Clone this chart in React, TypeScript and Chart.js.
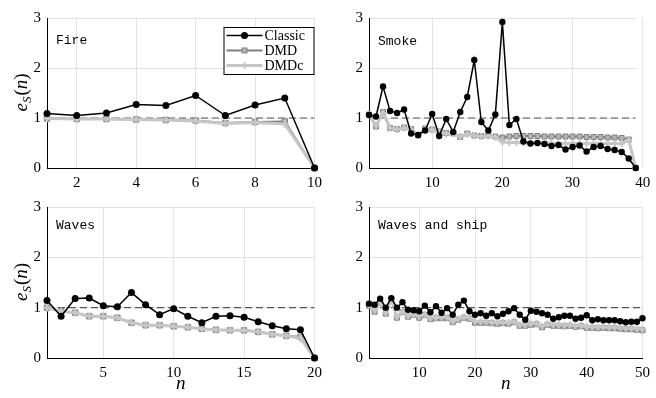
import React, { useEffect, useRef } from 'react';
import { Chart, registerables } from 'chart.js';

Chart.register(...registerables);

// ---------------- data ----------------
const seriesNames = ['Classic', 'DMD', 'DMDc'];
const referenceLevel = 1;
const yTicks = [0, 1, 2, 3];

const fireClassic = [1.09, 1.05, 1.1, 1.27, 1.25, 1.45, 1.05, 1.26, 1.4, 0];
const fireDMD = [0.99, 0.98, 0.98, 0.97, 0.96, 0.95, 0.9, 0.92, 0.93, 0];
const fireDMDc = [0.99, 0.98, 0.98, 0.97, 0.96, 0.94, 0.89, 0.91, 0.88, 0];
const fireTicks = [2, 4, 6, 8, 10];

const smokeClassic = [1.06, 1.03, 1.63, 1.14, 1.1, 1.17, 0.69, 0.66, 0.75, 1.08, 0.64, 0.98, 0.72, 1.12, 1.42, 2.16, 0.92, 0.75, 1.07, 2.92, 0.86, 0.98, 0.53, 0.49, 0.5, 0.48, 0.44, 0.46, 0.37, 0.42, 0.45, 0.33, 0.42, 0.44, 0.38, 0.36, 0.32, 0.19, 0];
const smokeDMD = [1.07, 0.83, 1.12, 0.8, 0.78, 0.81, 0.78, 0.65, 0.79, 0.77, 0.73, 0.7, 0.69, 0.62, 0.69, 0.65, 0.64, 0.65, 0.63, 0.61, 0.63, 0.64, 0.64, 0.64, 0.64, 0.63, 0.63, 0.63, 0.63, 0.63, 0.63, 0.62, 0.62, 0.62, 0.61, 0.61, 0.6, 0.57, 0];
const smokeDMDc = [1.07, 0.85, 1.1, 0.8, 0.77, 0.8, 0.77, 0.66, 0.77, 0.76, 0.72, 0.68, 0.69, 0.63, 0.68, 0.65, 0.63, 0.64, 0.62, 0.52, 0.51, 0.51, 0.5, 0.5, 0.5, 0.5, 0.5, 0.49, 0.49, 0.49, 0.49, 0.49, 0.49, 0.49, 0.49, 0.49, 0.49, 0.56, 0];
const smokeTicks = [10, 20, 30, 40];

const wavesClassic = [1.14, 0.83, 1.18, 1.19, 1.04, 1.02, 1.3, 1.06, 0.86, 0.98, 0.83, 0.7, 0.83, 0.84, 0.81, 0.72, 0.64, 0.58, 0.56, 0];
const wavesDMD = [1.0, 0.93, 0.9, 0.83, 0.83, 0.8, 0.7, 0.65, 0.65, 0.63, 0.61, 0.58, 0.56, 0.55, 0.55, 0.52, 0.47, 0.44, 0.42, 0];
const wavesDMDc = [1.0, 0.93, 0.9, 0.83, 0.83, 0.8, 0.7, 0.65, 0.65, 0.63, 0.61, 0.58, 0.56, 0.55, 0.55, 0.52, 0.47, 0.44, 0.39, 0];
const wavesTicks = [5, 10, 15, 20];

const shipClassic = [1.08, 1.06, 1.18, 1.0, 1.19, 1.0, 1.11, 0.96, 0.95, 0.93, 1.04, 0.91, 1.03, 0.9, 0.99, 0.86, 1.06, 1.14, 0.93, 0.86, 0.89, 0.84, 0.89, 0.83, 0.88, 0.93, 0.99, 0.86, 0.76, 0.94, 0.92, 0.89, 0.86, 0.78, 0.81, 0.84, 0.84, 0.78, 0.8, 0.85, 0.75, 0.77, 0.75, 0.75, 0.75, 0.73, 0.71, 0.72, 0.72, 0.79];
const shipDMD = [1.04, 0.92, 1.1, 0.88, 1.16, 0.8, 0.91, 0.82, 0.86, 0.8, 0.85, 0.77, 0.79, 0.79, 0.79, 0.71, 0.76, 0.8, 0.78, 0.7, 0.7, 0.7, 0.69, 0.68, 0.69, 0.68, 0.71, 0.64, 0.64, 0.66, 0.67, 0.61, 0.66, 0.64, 0.64, 0.63, 0.64, 0.62, 0.63, 0.6, 0.6, 0.59, 0.6, 0.59, 0.59, 0.58, 0.57, 0.57, 0.56, 0.55];
const shipDMDc = [1.06, 0.95, 1.12, 0.9, 1.18, 0.82, 0.93, 0.84, 0.88, 0.83, 0.87, 0.79, 0.81, 0.81, 0.81, 0.73, 0.78, 0.82, 0.8, 0.73, 0.72, 0.72, 0.71, 0.7, 0.71, 0.7, 0.73, 0.66, 0.66, 0.68, 0.69, 0.63, 0.68, 0.66, 0.66, 0.65, 0.66, 0.64, 0.65, 0.62, 0.62, 0.61, 0.62, 0.61, 0.61, 0.6, 0.59, 0.59, 0.58, 0.57];
const shipTicks = [10, 20, 30, 40, 50];

// ---------------- style ----------------
const SERIF = '"Liberation Serif", "Times New Roman", serif';
const MONO = '"Liberation Mono", "DejaVu Sans Mono", monospace';

const seriesStyle = [
  { color: '#000000', fill: '#000000', width: 1.5, point: 'circle', order: 0 },
  { color: '#7f7f7f', fill: '#b5b5b5', width: 2, point: 'rect', order: 2 },
  { color: '#c6c6c6', fill: '#c6c6c6', width: 3, point: 'cross', order: 1 },
];

const toPoints = (arr: number[]) => arr.map((v, i) => ({ x: i + 1, y: v }));

function drawMarker(ctx: CanvasRenderingContext2D, kind: string, x: number, y: number, r: number, st: any) {
  ctx.save();
  ctx.strokeStyle = st.color;
  ctx.fillStyle = st.fill;
  if (kind === 'circle') {
    ctx.beginPath();
    ctx.arc(x, y, r, 0, Math.PI * 2);
    ctx.fill();
  } else if (kind === 'rect') {
    const s = r * Math.SQRT2;
    ctx.lineWidth = 1;
    ctx.fillRect(x - s / 2, y - s / 2, s, s);
    ctx.strokeRect(x - s / 2, y - s / 2, s, s);
  } else {
    ctx.lineWidth = 2;
    ctx.beginPath();
    ctx.moveTo(x - r, y);
    ctx.lineTo(x + r, y);
    ctx.moveTo(x, y - r);
    ctx.lineTo(x, y + r);
    ctx.stroke();
  }
  ctx.restore();
}

const decorPlugin = {
  id: 'panelDecor',
  afterDraw(chart: any, _args: any, opts: any) {
    const { ctx, chartArea } = chart;
    ctx.save();
    // panel label
    ctx.font = `13px ${MONO}`;
    ctx.fillStyle = '#000';
    ctx.textAlign = 'left';
    ctx.textBaseline = 'middle';
    ctx.fillText(opts.label, chartArea.left + 9, chartArea.top + opts.labelDy);

    // y axis title e_S(n)
    if (opts.yTitle) {
      const cy = (chartArea.top + chartArea.bottom) / 2;
      ctx.save();
      ctx.translate(27, cy);
      ctx.rotate(-Math.PI / 2);
      ctx.textBaseline = 'alphabetic';
      const parts = [
        { t: 'e', f: `italic 19px ${SERIF}`, dy: 0 },
        { t: 'S', f: `italic 13px ${SERIF}`, dy: 3.5 },
        { t: '(', f: `19px ${SERIF}`, dy: 0 },
        { t: 'n', f: `italic 19px ${SERIF}`, dy: 0 },
        { t: ')', f: `19px ${SERIF}`, dy: 0 },
      ];
      let total = 0;
      const widths = parts.map((p) => {
        ctx.font = p.f;
        const w = ctx.measureText(p.t).width;
        total += w;
        return w;
      });
      let x = -total / 2;
      parts.forEach((p, i) => {
        ctx.font = p.f;
        ctx.fillText(p.t, x, p.dy);
        x += widths[i] + (i === 1 ? 1 : 0);
      });
      ctx.restore();
    }

    // x axis title n
    if (opts.xTitle) {
      ctx.font = `italic 19px ${SERIF}`;
      ctx.textAlign = 'center';
      ctx.textBaseline = 'alphabetic';
      ctx.fillText('n', (chartArea.left + chartArea.right) / 2, opts.xTitleY);
    }

    // legend
    if (opts.legend) {
      const bw = 91;
      const bh = 48;
      const bx = chartArea.right - bw;
      const by = chartArea.top + 9;
      ctx.fillStyle = '#fff';
      ctx.fillRect(bx, by, bw, bh);
      ctx.strokeStyle = '#000';
      ctx.lineWidth = 1;
      ctx.strokeRect(bx + 0.5, by + 0.5, bw - 1, bh - 1);
      const rows = [by + 8.5, by + 23.5, by + 38.5];
      seriesNames.forEach((name, i) => {
        const st = seriesStyle[i];
        const yy = rows[i];
        ctx.strokeStyle = st.color;
        ctx.lineWidth = st.width;
        ctx.beginPath();
        ctx.moveTo(bx + 3, yy);
        ctx.lineTo(bx + 39, yy);
        ctx.stroke();
        drawMarker(ctx, st.point, bx + 21, yy, 3.5, st);
        ctx.fillStyle = '#000';
        ctx.font = `14px ${SERIF}`;
        ctx.textAlign = 'left';
        ctx.textBaseline = 'middle';
        ctx.fillText(name, bx + 41, yy + 0.5);
      });
    }
    ctx.restore();
  },
};

type PanelProps = {
  label: string;
  classic: number[];
  dmd: number[];
  dmdc: number[];
  xTicks: number[];
  left: number;
  top: number;
  width: number;
  height: number;
  yScaleWidth: number;
  padTop: number;
  padRight: number;
  xScaleHeight: number;
  yTitle: boolean;
  xTitle: boolean;
  legend: boolean;
  labelDy: number;
  markerR: number;
};

function Panel(p: PanelProps) {
  const ref = useRef<HTMLCanvasElement>(null);
  useEffect(() => {
    if (!ref.current) return;
    const n = p.classic.length;
    const series = [p.classic, p.dmd, p.dmdc];
    const datasets: any[] = series.map((arr, i) => {
      const st = seriesStyle[i];
      return {
        label: seriesNames[i],
        data: toPoints(arr),
        borderColor: st.color,
        backgroundColor: st.fill,
        borderWidth: st.width,
        pointStyle: st.point,
        pointRadius: i === 0 ? p.markerR : p.markerR + 0.3,
        pointBorderColor: st.color,
        pointBackgroundColor: st.fill,
        pointBorderWidth: i === 0 ? 0 : i === 1 ? 1 : 2,
        tension: 0,
        fill: false,
        clip: false,
        order: st.order,
      };
    });
    datasets.push({
      label: 'reference',
      data: [
        { x: 1, y: referenceLevel },
        { x: n, y: referenceLevel },
      ],
      borderColor: '#555555',
      borderWidth: 1.2,
      borderDash: [7, 4],
      pointRadius: 0,
      fill: false,
      order: 5,
    });

    const chart = new Chart(ref.current, {
      type: 'line',
      data: { datasets },
      plugins: [decorPlugin as any],
      options: {
        animation: false,
        responsive: false,
        devicePixelRatio: 1,
        events: [],
        layout: { padding: { top: p.padTop, right: p.padRight, left: 0, bottom: 0 } },
        plugins: {
          legend: { display: false },
          tooltip: { enabled: false },
          panelDecor: {
            label: p.label,
            yTitle: p.yTitle,
            xTitle: p.xTitle,
            legend: p.legend,
            labelDy: p.labelDy,
            xTitleY: p.height - 9,
          },
        } as any,
        scales: {
          x: {
            type: 'linear',
            min: 1,
            max: n,
            afterBuildTicks: (scale: any) => {
              scale.ticks = p.xTicks.map((v) => ({ value: v }));
            },
            afterFit: (scale: any) => {
              scale.height = p.xScaleHeight;
            },
            grid: { color: '#e2e2e2', lineWidth: 1, drawTicks: false },
            border: { display: true, color: '#000', width: 1 },
            ticks: {
              padding: 6,
              color: '#000',
              font: { family: SERIF, size: 15 },
              maxRotation: 0,
              autoSkip: false,
            },
          },
          y: {
            type: 'linear',
            min: 0,
            max: 3,
            afterBuildTicks: (scale: any) => {
              scale.ticks = yTicks.map((v) => ({ value: v }));
            },
            afterFit: (scale: any) => {
              scale.width = p.yScaleWidth;
            },
            grid: { color: '#e2e2e2', lineWidth: 1, drawTicks: false },
            border: { display: true, color: '#000', width: 1 },
            ticks: {
              padding: 6,
              color: '#000',
              font: { family: SERIF, size: 15 },
            },
          },
        },
      } as any,
    });
    return () => chart.destroy();
  }, []);
  return (
    <canvas
      ref={ref}
      width={p.width}
      height={p.height}
      style={{ position: 'absolute', left: p.left, top: p.top, width: p.width, height: p.height }}
    />
  );
}

export default function App() {
  return (
    <div
      style={{
        position: 'fixed',
        left: 0,
        top: 0,
        width: 656,
        height: 398,
        background: '#fff',
        overflow: 'hidden',
      }}
    >
      <Panel
        label="Fire"
        classic={fireClassic}
        dmd={fireDMD}
        dmdc={fireDMDc}
        xTicks={fireTicks}
        left={0}
        top={0}
        width={328}
        height={190}
        yScaleWidth={47}
        padTop={18}
        padRight={3}
        xScaleHeight={22}
        yTitle={true}
        xTitle={false}
        legend={true}
        labelDy={23}
        markerR={3.5}
      />
      <Panel
        label="Smoke"
        classic={smokeClassic}
        dmd={smokeDMD}
        dmdc={smokeDMDc}
        xTicks={smokeTicks}
        left={328}
        top={0}
        width={328}
        height={190}
        yScaleWidth={41}
        padTop={18}
        padRight={9}
        xScaleHeight={22}
        yTitle={false}
        xTitle={false}
        legend={false}
        labelDy={24}
        markerR={3.2}
      />
      <Panel
        label="Waves"
        classic={wavesClassic}
        dmd={wavesDMD}
        dmdc={wavesDMDc}
        xTicks={wavesTicks}
        left={0}
        top={190}
        width={328}
        height={208}
        yScaleWidth={47}
        padTop={17}
        padRight={3}
        xScaleHeight={40}
        yTitle={true}
        xTitle={true}
        legend={false}
        labelDy={19}
        markerR={3.5}
      />
      <Panel
        label="Waves and ship"
        classic={shipClassic}
        dmd={shipDMD}
        dmdc={shipDMDc}
        xTicks={shipTicks}
        left={328}
        top={190}
        width={328}
        height={208}
        yScaleWidth={41}
        padTop={17}
        padRight={9}
        xScaleHeight={40}
        yTitle={false}
        xTitle={true}
        legend={false}
        labelDy={19}
        markerR={3.2}
      />
    </div>
  );
}
